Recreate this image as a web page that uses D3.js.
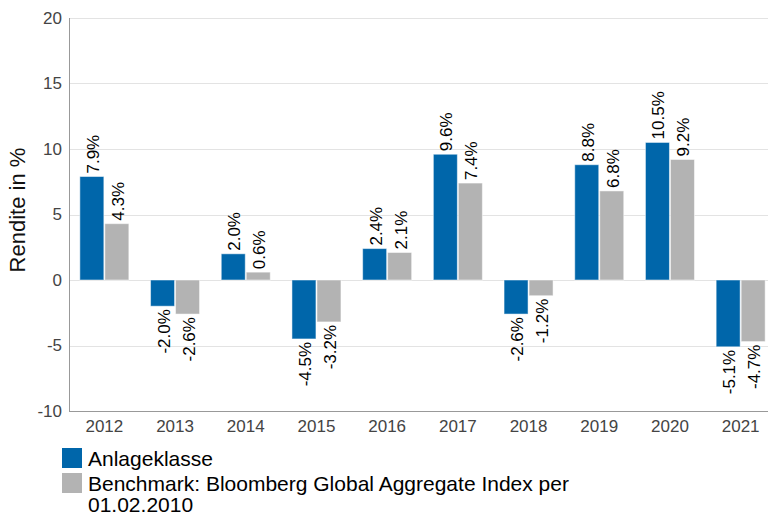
<!DOCTYPE html>
<html>
<head>
<meta charset="utf-8">
<script src="https://cdn.jsdelivr.net/npm/d3@7"></script>
<style>
body { margin: 0; background: #fff; }
text { font-family: "Liberation Sans", Arial, sans-serif; }
</style>
</head>
<body>
<script>
var years = ["2012", "2013", "2014", "2015", "2016", "2017", "2018", "2019", "2020", "2021"];
var anlage = [7.9, -2.0, 2.0, -4.5, 2.4, 9.6, -2.6, 8.8, 10.5, -5.1];
var benchmark = [4.3, -2.6, 0.6, -3.2, 2.1, 7.4, -1.2, 6.8, 9.2, -4.7];
var yTicks = [-10, -5, 0, 5, 10, 15, 20];
var seriesNames = ["Anlageklasse", "Benchmark: Bloomberg Global Aggregate Index per", "01.02.2010"];
var colors = ["#0066aa", "#b3b3b3"];

var width = 768, height = 516;
var plot = {left: 69, right: 776, top: 18, bottom: 411};

var svg = d3.select("body").append("svg")
    .attr("width", width)
    .attr("height", height);

var x = d3.scaleBand().domain(years).range([plot.left, plot.right]);
var y = d3.scaleLinear().domain([-10, 20]).range([plot.bottom, plot.top]);

// gridlines
svg.selectAll(".grid")
    .data(yTicks.filter(function(d) { return d > -10; }))
    .enter().append("line")
    .attr("x1", plot.left).attr("x2", width)
    .attr("y1", function(d) { return Math.round(y(d)) + 0.5; })
    .attr("y2", function(d) { return Math.round(y(d)) + 0.5; })
    .attr("stroke", "#e3e3e3");

// y tick labels
svg.selectAll(".ytick")
    .data(yTicks)
    .enter().append("text")
    .attr("x", 62)
    .attr("y", function(d) { return y(d); })
    .attr("dy", "0.35em")
    .attr("text-anchor", "end")
    .attr("font-size", 17)
    .attr("fill", "#444")
    .text(function(d) { return d; });

// x tick labels
svg.selectAll(".xtick")
    .data(years)
    .enter().append("text")
    .attr("x", function(d) { return x(d) + x.bandwidth() / 2; })
    .attr("y", 432)
    .attr("text-anchor", "middle")
    .attr("font-size", 17)
    .attr("fill", "#444")
    .text(function(d) { return d; });

// y title
svg.append("text")
    .attr("transform", "translate(25,210) rotate(-90)")
    .attr("text-anchor", "middle")
    .attr("font-size", 22)
    .attr("fill", "#111")
    .text("Rendite in %");

var barW = 24;
var series = [anlage, benchmark];
series.forEach(function(vals, s) {
    var data = years.map(function(yr, i) { return {year: yr, value: vals[i]}; });
    var offset = s === 0 ? -barW - 0.5 : 0.5;
    svg.selectAll(".bar" + s)
        .data(data)
        .enter().append("rect")
        .attr("x", function(d) { return x(d.year) + x.bandwidth() / 2 + offset; })
        .attr("width", barW)
        .attr("y", function(d) { return y(Math.max(0, d.value)); })
        .attr("height", function(d) { return Math.abs(y(d.value) - y(0)); })
        .attr("fill", colors[s])
        .attr("stroke", "#fff")
        .attr("stroke-opacity", 0.5)
        .attr("stroke-width", 1);

    svg.selectAll(".lab" + s)
        .data(data)
        .enter().append("text")
        .attr("transform", function(d) {
            var cx = x(d.year) + x.bandwidth() / 2 + offset + barW / 2;
            var cy = d.value >= 0 ? y(d.value) - 3 : y(d.value) + 3;
            return "translate(" + (cx + 7) + "," + cy + ") rotate(-90)";
        })
        .attr("text-anchor", function(d) { return d.value >= 0 ? "start" : "end"; })
        .attr("font-size", 17)
        .attr("fill", "#000")
        .text(function(d) { return d.value.toFixed(1) + "%"; });
});

// axes lines
svg.append("line")
    .attr("x1", plot.left + 0.5).attr("x2", plot.left + 0.5)
    .attr("y1", plot.top).attr("y2", plot.bottom)
    .attr("stroke", "#999");
svg.append("line")
    .attr("x1", plot.left).attr("x2", width)
    .attr("y1", plot.bottom + 0.5).attr("y2", plot.bottom + 0.5)
    .attr("stroke", "#999");

// legend
var legend = svg.append("g");
legend.selectAll("rect")
    .data(colors)
    .enter().append("rect")
    .attr("x", 62)
    .attr("y", function(d, i) { return 448 + i * 25; })
    .attr("width", 20)
    .attr("height", 20)
    .attr("fill", function(d) { return d; });
legend.selectAll("text")
    .data(seriesNames)
    .enter().append("text")
    .attr("x", 88)
    .attr("y", function(d, i) { return [466, 491, 512][i]; })
    .attr("font-size", 21)
    .attr("fill", "#000")
    .text(function(d) { return d; });
</script>
</body>
</html>
